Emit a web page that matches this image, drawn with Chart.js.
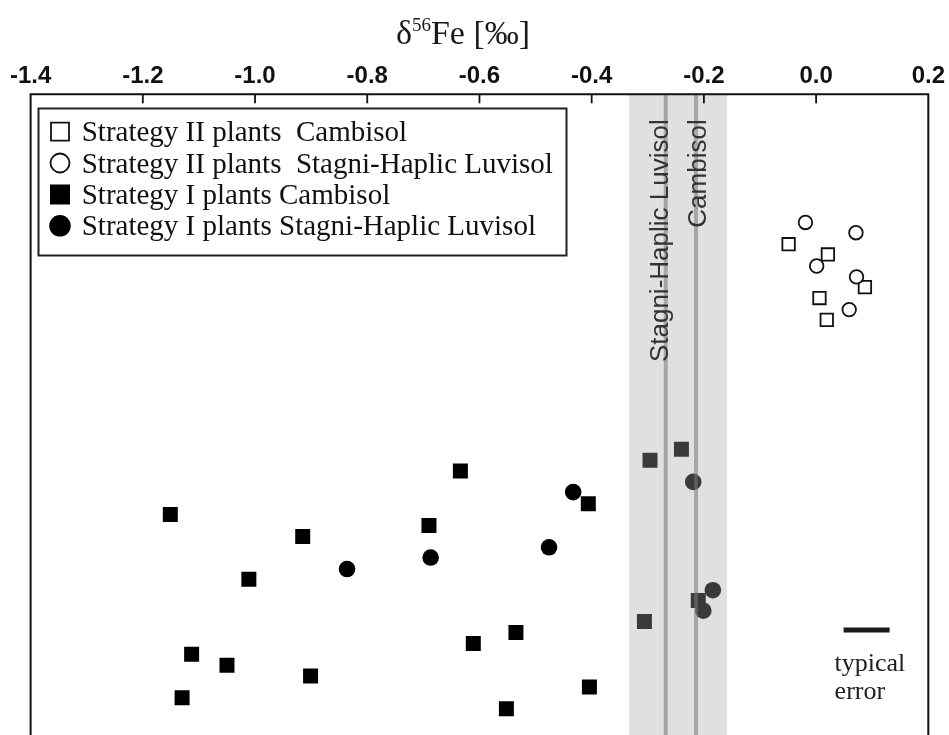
<!DOCTYPE html>
<html>
<head>
<meta charset="utf-8">
<script src="https://cdn.jsdelivr.net/npm/chart.js@4.4.1/dist/chart.umd.min.js"></script>
<style>
  html, body { margin: 0; padding: 0; background: #fff; }
  #wrap { width: 949px; height: 735px; position: relative; }
</style>
</head>
<body>
<div id="wrap"><canvas id="fePlot"></canvas></div>
<script>
// x = delta56Fe (permil), y = arbitrary vertical spread (no axis in the original)
const xTickValues = [-1.4, -1.2, -1.0, -0.8, -0.6, -0.4, -0.2, 0.0, 0.2];

const s2CambX = [-0.049, 0.021, 0.087, 0.006, 0.019];
const s2CambY = [76.6, 75.0, 69.9, 68.2, 64.8];

const s2LuvX = [-0.019, 0.071, 0.001, 0.072, 0.059];
const s2LuvY = [80.0, 78.4, 73.2, 71.5, 66.4];

const s1CambX = [-1.151, -0.915, -1.011, -1.113, -1.050, -1.130, -0.901, -0.634, -0.690,
                 -0.406, -0.611, -0.535, -0.404, -0.552, -0.296, -0.240, -0.210, -0.306];
const s1CambY = [34.4, 31.0, 24.3, 12.6, 10.9, 5.8, 9.2, 41.2, 32.7,
                 36.1, 14.3, 16.0, 7.5, 4.1, 42.9, 44.6, 21.0, 17.7];

const s1LuvX = [-0.836, -0.687, -0.476, -0.433, -0.219, -0.184, -0.201];
const s1LuvY = [25.9, 27.7, 29.3, 37.9, 39.5, 22.6, 19.4];

const soilBand = [-0.333, -0.159];
const soilLineX = [-0.268, -0.214];
const soilLineLabels = ['Stagni-Haplic Luvisol', 'Cambisol'];

const errorBarX = [0.049, 0.131];
const errorBarY = 16.4;

const legendLabels = [
  'Strategy II plants  Cambisol',
  'Strategy II plants  Stagni-Haplic Luvisol',
  'Strategy I plants Cambisol',
  'Strategy I plants Stagni-Haplic Luvisol'
];

function pts(xs, ys) {
  return xs.map((v, i) => ({x: v, y: ys[i]}));
}

const SERIF = "'Liberation Serif', 'Times New Roman', serif";
const SANS = "'Liberation Sans', Arial, sans-serif";

const extras = {
  id: 'extras',
  afterDatasetsDraw(chart) {
    const {ctx, chartArea: a, scales: {x, y}} = chart;
    ctx.save();

    // grey band + reference lines drawn over the points
    const b0 = x.getPixelForValue(soilBand[0]);
    const b1 = x.getPixelForValue(soilBand[1]);
    ctx.fillStyle = 'rgba(166,166,166,0.35)';
    ctx.fillRect(b0, a.top, b1 - b0, a.bottom - a.top);

    ctx.strokeStyle = 'rgba(119,119,119,0.55)';
    ctx.lineWidth = 4;
    soilLineX.forEach(v => {
      const px = x.getPixelForValue(v);
      ctx.beginPath();
      ctx.moveTo(px, a.top);
      ctx.lineTo(px, a.bottom);
      ctx.stroke();
    });

    // rotated labels
    ctx.fillStyle = '#333';
    ctx.font = '26px ' + SANS;
    ctx.textAlign = 'right';
    ctx.textBaseline = 'alphabetic';
    const offs = [2, 9.5];
    soilLineX.forEach((v, i) => {
      const px = x.getPixelForValue(v) + offs[i];
      ctx.save();
      ctx.translate(px, a.top + 25);
      ctx.rotate(-Math.PI / 2);
      ctx.fillText(soilLineLabels[i], 0, 0);
      ctx.restore();
    });

    // frame: top, left, right
    ctx.strokeStyle = '#111';
    ctx.lineWidth = 2;
    ctx.beginPath();
    ctx.moveTo(a.left, a.bottom);
    ctx.lineTo(a.left, a.top);
    ctx.lineTo(a.right, a.top);
    ctx.lineTo(a.right, a.bottom);
    ctx.stroke();

    // inward tick marks
    ctx.lineWidth = 1.8;
    x.ticks.forEach(t => {
      const px = x.getPixelForValue(t.value);
      if (px <= a.left + 2 || px >= a.right - 2) return;
      ctx.beginPath();
      ctx.moveTo(px, a.top);
      ctx.lineTo(px, a.top + 9);
      ctx.stroke();
    });

    // legend box
    ctx.lineWidth = 2;
    ctx.strokeStyle = '#222';
    ctx.strokeRect(38.5, 108.5, 528, 147);
    ctx.textAlign = 'left';
    ctx.font = '29px ' + SERIF;
    ctx.fillStyle = '#111';
    const rows = [131.7, 163.0, 194.5, 225.8];
    chart.data.datasets.slice(0, 4).forEach((ds, i) => {
      const cy = rows[i];
      const cx = 60;
      ctx.lineWidth = 1.8;
      ctx.strokeStyle = '#111';
      ctx.fillStyle = ds.backgroundColor;
      ctx.beginPath();
      if (ds.pointStyle === 'rect') {
        const s = ds.borderWidth > 0 ? 18 : 20;
        ctx.rect(cx - s / 2, cy - s / 2, s, s);
      } else {
        const r = ds.borderWidth > 0 ? 9.5 : 10.8;
        ctx.arc(cx, cy, r, 0, Math.PI * 2);
      }
      ctx.fill();
      if (ds.borderWidth > 0) ctx.stroke();
      ctx.fillStyle = '#111';
      ctx.fillText(legendLabels[i], 81.7, cy + 9.6);
    });

    // typical error caption
    const ex = x.getPixelForValue(errorBarX[0]) - 9;
    const ey = y.getPixelForValue(errorBarY);
    ctx.font = '26px ' + SERIF;
    ctx.fillStyle = '#222';
    ctx.fillText('typical', ex, ey + 40.7);
    ctx.fillText('error', ex, ey + 69.3);

    // axis title: delta56Fe [permil]
    const bigFont = '34px ' + SERIF;
    const supFont = '19px ' + SERIF;
    ctx.font = bigFont;
    const w1 = ctx.measureText('\u03B4').width;
    const w3 = ctx.measureText('Fe [\u2030]').width;
    ctx.font = supFont;
    const w2 = ctx.measureText('56').width;
    let tx = 463 - (w1 + w2 + w3) / 2;
    const base = 44;
    ctx.fillStyle = '#1a1a1a';
    ctx.font = bigFont;
    ctx.fillText('\u03B4', tx, base);
    tx += w1;
    ctx.font = supFont;
    ctx.fillText('56', tx, base - 13);
    tx += w2;
    ctx.font = bigFont;
    ctx.fillText('Fe [\u2030]', tx, base);

    ctx.restore();
  }
};

new Chart(document.getElementById('fePlot'), {
  type: 'scatter',
  data: {
    datasets: [
      {
        label: legendLabels[0],
        data: pts(s2CambX, s2CambY),
        pointStyle: 'rect',
        pointRadius: 8.8,
        backgroundColor: '#fff',
        borderColor: '#111',
        borderWidth: 1.8,
        order: 2
      },
      {
        label: legendLabels[1],
        data: pts(s2LuvX, s2LuvY),
        pointStyle: 'circle',
        pointRadius: 6.8,
        backgroundColor: '#fff',
        borderColor: '#111',
        borderWidth: 1.8,
        order: 1
      },
      {
        label: legendLabels[2],
        data: pts(s1CambX, s1CambY),
        pointStyle: 'rect',
        pointRadius: 10.6,
        backgroundColor: '#000',
        borderWidth: 0,
        order: 4
      },
      {
        label: legendLabels[3],
        data: pts(s1LuvX, s1LuvY),
        pointStyle: 'circle',
        pointRadius: 8.3,
        backgroundColor: '#000',
        borderWidth: 0,
        order: 3
      },
      {
        label: 'typical error',
        data: errorBarX.map(v => ({x: v, y: errorBarY})),
        showLine: true,
        pointRadius: 0,
        borderColor: '#1a1a1a',
        borderWidth: 5,
        borderCapStyle: 'butt',
        order: 5
      }
    ]
  },
  options: {
    responsive: true,
    maintainAspectRatio: false,
    animation: false,
    layout: { autoPadding: false, padding: { top: 57.5, left: 30.6, right: 19.7, bottom: 0 } },
    plugins: {
      legend: { display: false },
      tooltip: { enabled: false }
    },
    scales: {
      x: {
        type: 'linear',
        position: 'top',
        min: -1.4,
        max: 0.2,
        afterBuildTicks: s => { s.ticks = xTickValues.map(v => ({value: v})); },
        ticks: {
          padding: 4,
          color: '#111',
          font: { family: SANS, size: 24, weight: 'bold' },
          maxRotation: 0,
          callback: v => (Math.abs(v) < 1e-9 ? '0.0' : v.toFixed(1))
        },
        grid: { display: false, drawTicks: false },
        border: { display: false }
      },
      y: {
        display: false,
        min: 0,
        max: 100
      }
    }
  },
  plugins: [extras]
});
</script>
</body>
</html>
